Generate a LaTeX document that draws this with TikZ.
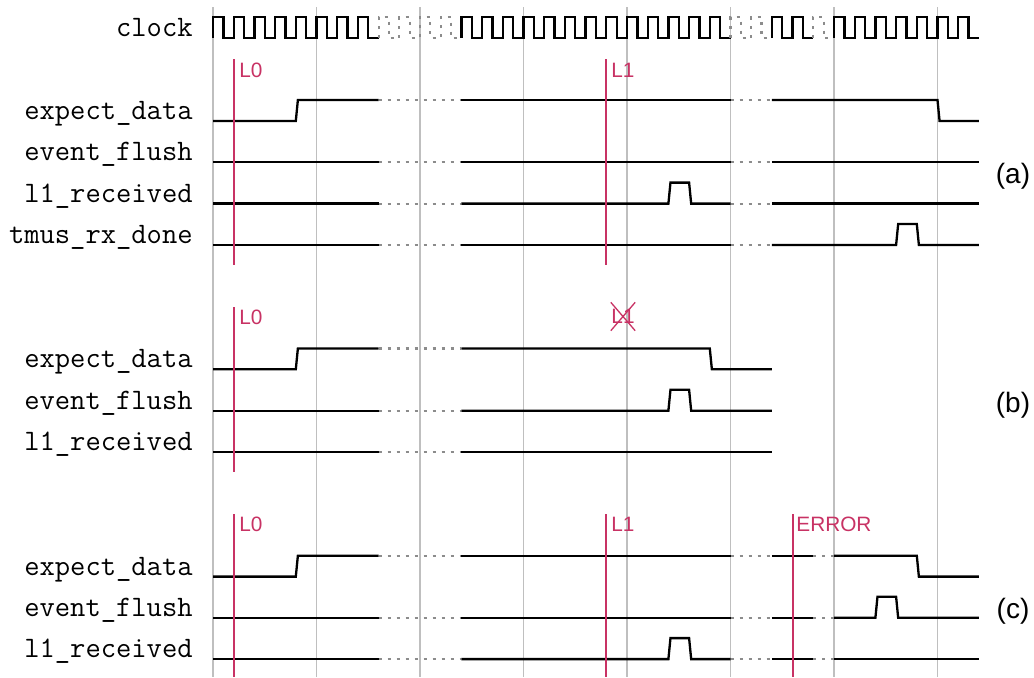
\documentclass[tikz,border=0pt]{standalone}
\usepackage{fontspec}
\setsansfont{Liberation Sans}
\usetikzlibrary{shapes.misc}
\definecolor{markc}{RGB}{200,50,100}
\tikzset{
  sig/.style={line width=1.15pt, black},
  gap/.style={line width=1.1pt, black!45, dash pattern=on 1.5pt off 3pt},
  gridl/.style={line width=0.65pt, black!25},
  marker/.style={line width=0.9pt, markc},
  mlabel/.style={font=\sffamily\fontsize{10.4}{12}\selectfont, text=markc, anchor=north west, inner sep=0pt},
  slabel/.style={font=\ttfamily\fontsize{14.85}{16}\selectfont, anchor=base east, inner sep=0pt},
  plabel/.style={font=\sffamily\fontsize{14}{16}\selectfont, anchor=center, inner sep=0pt},
}
\begin{document}
\begin{tikzpicture}[x=0.5pt,y=-0.5pt]
\useasboundingbox (0,0) rectangle (1034,677);
% grid
\foreach \k in {0,...,7} \draw[gridl] ({213+103.5*\k},7) -- ({213+103.5*\k},677);
% labels
\node[slabel] (l-clock) at (193,36.5) {clock};
\node[slabel] (la-exp) at (193,119.5) {expect\_data};
\node[slabel] (la-ef) at (193,160.8) {event\_flush};
\node[slabel] (la-l1) at (193,202.1) {l1\_received};
\node[slabel] (la-tm) at (193,243.5) {tmus\_rx\_done};
\node[slabel] (lb-exp) at (193,367.8) {expect\_data};
\node[slabel] (lb-ef) at (193,409.2) {event\_flush};
\node[slabel] (lb-l1) at (193,450.5) {l1\_received};
\node[slabel] (lc-exp) at (193,575) {expect\_data};
\node[slabel] (lc-ef) at (193,616.3) {event\_flush};
\node[slabel] (lc-l1) at (193,657.6) {l1\_received};
\node[plabel] (pa) at (1013,176) {(a)};
\node[plabel] (pb) at (1013,405) {(b)};
\node[plabel] (pc) at (1013,611) {(c)};
\begin{scope}[xshift=106.5pt, x=5.175pt]
% clock
\draw[sig] (0,38) \foreach \k in {0,2,...,14} { -- (\k,17) -- (\k+1,17) -- (\k+1,38) -- (\k+2,38) };
\draw[gap] (16,38) \foreach \k in {16,18,20,22} { -- (\k,17) -- (\k+1,17) -- (\k+1,38) -- (\k+2,38) };
\draw[sig] (24,38) \foreach \k in {24,26,...,48} { -- (\k,17) -- (\k+1,17) -- (\k+1,38) -- (\k+2,38) };
\draw[gap] (50,38) \foreach \k in {50,52} { -- (\k,17) -- (\k+1,17) -- (\k+1,38) -- (\k+2,38) };
\draw[sig] (54,38) \foreach \k in {54,56} { -- (\k,17) -- (\k+1,17) -- (\k+1,38) -- (\k+2,38) };
\draw[gap] (58,38) -- (58,17) -- (59,17) -- (59,38) -- (60,38);
\draw[sig] (60,38) \foreach \k in {60,62,...,72} { -- (\k,17) -- (\k+1,17) -- (\k+1,38) -- (\k+2,38) };
% (a) expect_data
\draw[sig] (0,121) -- (8,121) -- (8.2,100) -- (16,100);
\draw[gap] (16,100) -- (24,100);
\draw[sig] (24,100) -- (50,100);
\draw[gap] (50,100) -- (54,100);
\draw[sig] (54,100) -- (70,100) -- (70.2,121) -- (74,121);
% (a) event_flush
\draw[sig] (0,162.3) -- (16,162.3);
\draw[gap] (16,162.3) -- (24,162.3);
\draw[sig] (24,162.3) -- (50,162.3);
\draw[gap] (50,162.3) -- (54,162.3);
\draw[sig] (54,162.3) -- (74,162.3);
% (a) l1_received
\draw[sig] (0,203.6) -- (16,203.6);
\draw[gap] (16,203.6) -- (24,203.6);
\draw[sig] (24,203.6) -- (44,203.6) -- (44.2,182.6) -- (46,182.6) -- (46.2,203.6) -- (50,203.6);
\draw[gap] (50,203.6) -- (54,203.6);
\draw[sig] (54,203.6) -- (74,203.6);
% (a) tmus_rx_done
\draw[sig] (0,245) -- (16,245);
\draw[gap] (16,245) -- (24,245);
\draw[sig] (24,245) -- (50,245);
\draw[gap] (50,245) -- (54,245);
\draw[sig] (54,245) -- (66,245) -- (66.2,224) -- (68,224) -- (68.2,245) -- (74,245);
% (b) expect_data
\draw[sig] (0,369.3) -- (8,369.3) -- (8.2,348.5) -- (16,348.5);
\draw[gap] (16,348.5) -- (24,348.5);
\draw[sig] (24,348.5) -- (48,348.5) -- (48.2,369.3) -- (54,369.3);
% (b) event_flush
\draw[sig] (0,410.7) -- (16,410.7);
\draw[gap] (16,410.7) -- (24,410.7);
\draw[sig] (24,410.7) -- (44,410.7) -- (44.2,389.8) -- (46,389.8) -- (46.2,410.7) -- (54,410.7);
% (b) l1_received
\draw[sig] (0,452) -- (16,452);
\draw[gap] (16,452) -- (24,452);
\draw[sig] (24,452) -- (54,452);
% (c) expect_data
\draw[sig] (0,576.6) -- (8,576.6) -- (8.2,555.7) -- (16,555.7);
\draw[gap] (16,555.7) -- (24,555.7);
\draw[sig] (24,555.7) -- (50,555.7);
\draw[gap] (50,555.7) -- (54,555.7);
\draw[sig] (54,555.7) -- (58,555.7);
\draw[gap] (58,555.7) -- (60,555.7);
\draw[sig] (60,555.7) -- (68,555.7) -- (68.2,576.6) -- (74,576.6);
% (c) event_flush
\draw[sig] (0,617.8) -- (16,617.8);
\draw[gap] (16,617.8) -- (24,617.8);
\draw[sig] (24,617.8) -- (50,617.8);
\draw[gap] (50,617.8) -- (54,617.8);
\draw[sig] (54,617.8) -- (58,617.8);
\draw[gap] (58,617.8) -- (60,617.8);
\draw[sig] (60,617.8) -- (64,617.8) -- (64.2,596.8) -- (66,596.8) -- (66.2,617.8) -- (74,617.8);
% (c) l1_received
\draw[sig] (0,659.1) -- (16,659.1);
\draw[gap] (16,659.1) -- (24,659.1);
\draw[sig] (24,659.1) -- (44,659.1) -- (44.2,638.1) -- (46,638.1) -- (46.2,659.1) -- (50,659.1);
\draw[gap] (50,659.1) -- (54,659.1);
\draw[sig] (54,659.1) -- (58,659.1);
\draw[gap] (58,659.1) -- (60,659.1);
\draw[sig] (60,659.1) -- (74,659.1);
% markers
\draw[marker] (2,59) -- (2,265);
\draw[marker] (38,59) -- (38,265);
\draw[marker] (2,307) -- (2,472);
\draw[marker] (2,514) -- (2,677);
\draw[marker] (38,514) -- (38,677);
\draw[marker] (56,514) -- (56,677);
\end{scope}
\node[mlabel] (ma-L0) at (239,62.5) {L0};
\node[mlabel] (ma-L1) at (611,62.5) {L1};
\node[mlabel] (mb-L0) at (239,309.5) {L0};
\node[mlabel, cross out, draw=markc, line width=0.65pt, inner xsep=0pt, inner ysep=3.2pt, anchor=center] (mb-L1) at (623,316.5) {L1};
\node[mlabel] (mc-L0) at (239,516.5) {L0};
\node[mlabel] (mc-L1) at (611,516.5) {L1};
\node[mlabel] (mc-ERR) at (796,516.5) {ERROR};
\end{tikzpicture}
\end{document}
